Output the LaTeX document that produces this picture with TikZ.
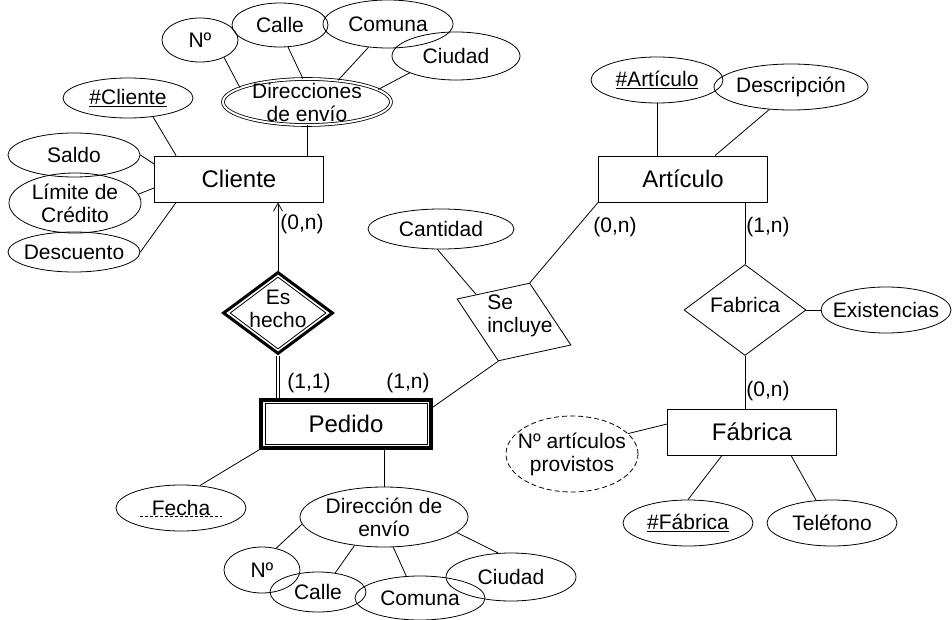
\documentclass[tikz,border=0pt]{standalone}
\usepackage{fontspec}
\setmainfont{Liberation Sans}
\usetikzlibrary{arrows.meta, shapes.geometric}

\begin{document}
\begin{tikzpicture}[x=1pt, y=-1pt, line width=0.8pt,
		every node/.style={font=\fontsize{21}{23}\selectfont, inner sep=0pt},
		entidad/.style={draw, rectangle, minimum width=169pt, minimum height=46pt, font=\fontsize{24}{26}\selectfont},
		atributo/.style={draw, ellipse, minimum width=130pt, minimum height=46pt, align=center, inner xsep=-10pt, inner ysep=-6pt},
		relacion/.style={draw, diamond}]
	\useasboundingbox (0,0) rectangle (952,620);

	% Entidades
	\node[entidad] (cliente) at (239,179) {Cliente};
	\node[entidad] (articulo) at (683,179) {Artículo};
	\node[entidad] (fabrica) at (752,432) {Fábrica};
	\node[entidad, line width=3.5pt, minimum width=170pt, minimum height=48pt] (pedido) at (346,424) {Pedido};
	\node[draw, minimum width=162pt, minimum height=41pt] (pedidoin) at (pedido) {};

	% Relaciones
	\node[relacion, line width=3pt, minimum width=110pt, minimum height=82pt] (eshecho) at (278,313) {};
	\node[relacion, minimum width=96pt, minimum height=72pt] (eshechoin) at (eshecho) {};
	\node[align=center] (eshechotxt) at (278,309) {Es\\hecho};
	\node[relacion, rotate=-22, minimum width=123pt, minimum height=84pt] (incluye) at (514,322) {};
	\node[align=left] (incluyetxt) at (520,316) {Se\\incluye};
	\node[relacion, minimum width=122pt, minimum height=91pt] (fabricarel) at (745,310) {};
	\node (fabricatxt) at (745,305) {Fabrica};

	% Atributos de Cliente
	\node[atributo, minimum height=40pt] (clavecliente) at (128,98) {\underline{\#Cliente}};
	\node[atributo, minimum width=132pt, minimum height=44pt] (saldo) at (74,155) {Saldo};
	\node[atributo, minimum width=132pt, minimum height=60pt] (limite) at (75,203) {Límite de\\Crédito};
	\node[atributo, minimum width=132pt, minimum height=40pt] (descuento) at (74,252) {Descuento};
	\node[atributo, double, double distance=2pt, minimum width=168pt, minimum height=46pt] (direcciones) at (307,102) {Direcciones\\de envío};
	\node[atributo, minimum width=76pt, minimum height=44pt] (numero) at (200,40) {Nº};
	\node[atributo, minimum width=96pt, minimum height=44pt] (calle) at (280,25) {Calle};
	\node[atributo, minimum height=48pt] (comuna) at (388,24) {Comuna};
	\node[atributo, minimum width=128pt, minimum height=48pt] (ciudad) at (456,56) {Ciudad};

	% Atributos de Artículo, Se incluye y Fábrica
	\node[atributo, minimum width=132pt] (clavearticulo) at (657,80) {\underline{\#Artículo}};
	\node[atributo, minimum width=154pt] (descripcion) at (791,87) {Descripción};
	\node[atributo, minimum width=146pt, minimum height=40pt] (cantidad) at (441,229) {Cantidad};
	\node[atributo] (existencias) at (886,310) {Existencias};
	\node[atributo, dash pattern=on 5pt off 3pt, minimum width=132pt, minimum height=76pt] (provistos) at (572,454) {Nº artículos\\provistos};
	\node[atributo] (clavefabrica) at (688,523) {\underline{\#Fábrica}};
	\node[atributo] (telefono) at (832,523) {Teléfono};

	% Atributos de Pedido
	\node[atributo] (fecha) at (181,508) {Fecha};
	\draw[dash pattern=on 3pt off 2pt] ([xshift=-41pt, yshift=-8pt]fecha.center) -- ([xshift=41pt, yshift=-8pt]fecha.center);
	\node[atributo, minimum width=168pt, minimum height=60pt] (direccion) at (384,517) {Dirección de\\envío};
	\node[atributo, minimum width=76pt] (numero2) at (262,570) {Nº};
	\node[atributo, minimum width=96pt, minimum height=40pt] (calle2) at (318,592) {Calle};
	\node[atributo, minimum height=44pt] (comuna2) at (420,598) {Comuna};
	\node[atributo, minimum height=48pt] (ciudad2) at (511,577) {Ciudad};

	% Cardinalidades
	\node (card1) at (302,224) {(0,n)};
	\node (card2) at (309,383) {(1,1)};
	\node (card3) at (408,383) {(1,n)};
	\node (card4) at (615,227) {(0,n)};
	\node (card5) at (768,227) {(1,n)};
	\node (card6) at (768,391) {(0,n)};

	% Lineas de Cliente
	\draw (clavecliente.-37) -- ([xshift=22pt]cliente.north west);
	\draw (saldo.east) -- ([yshift=15pt]cliente.west);
	\draw (limite.8) -- ([yshift=-9pt]cliente.west);
	\draw (descuento.east) -- ([xshift=22pt]cliente.south west);
	\draw (direcciones.south) -- (direcciones.south |- cliente.north);
	\draw (numero.-36) -- (direcciones.168);
	\draw (calle.-70) -- (direcciones.100);
	\draw (comuna.-130) -- (direcciones.35);
	\draw (ciudad.200) -- (direcciones.10);

	% Es hecho
	\draw[-{Straight Barb[length=8pt, width=9pt]}] (eshecho.north) -- (eshecho.north |- cliente.south);
	\draw[double, double distance=2.5pt] (eshecho.south) -- (eshecho.south |- pedido.north);

	% Lineas de Pedido
	\draw (pedido.south west) -- (fecha.50);
	\draw (direccion.north |- pedido.south) -- (direccion.north);
	\draw ([yshift=-9pt]pedido.north east) -- (incluye.south);
	\draw (numero2.57) -- (direccion.185);
	\draw (calle2.48) -- (direccion.224);
	\draw (comuna2.122) -- (direccion.-73);
	\draw (ciudad2.118) -- (direccion.-12);

	% Se incluye
	\draw (cantidad.-100) -- (incluye.166);
	\draw (incluye.north) -- (articulo.south west);

	% Lineas de Articulo
	\draw (clavearticulo.south) -- (clavearticulo.south |- articulo.north);
	\draw (descripcion.-134) -- ([xshift=32pt]articulo.north);
	\draw (fabricarel.north |- articulo.south) -- (fabricarel.north);

	% Fabrica
	\draw (fabricarel.east) -- (existencias.west);
	\draw (fabricarel.south) -- (fabricarel.south |- fabrica.north);
	\draw (provistos.20) -- ([yshift=8pt]fabrica.west);
	\draw ([xshift=-30pt]fabrica.south) -- (clavefabrica.north);
	\draw ([xshift=39pt]fabrica.south) -- (telefono.125);
\end{tikzpicture}
\end{document}
